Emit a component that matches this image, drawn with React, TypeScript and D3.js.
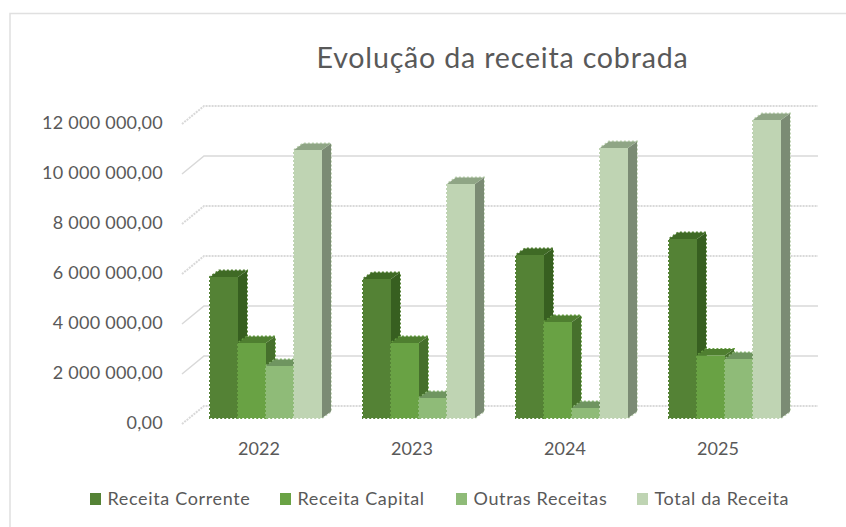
import React from "react";
import * as d3 from "d3";

const years = ["2022", "2023", "2024", "2025"];
const seriesNames = ["Receita Corrente", "Receita Capital", "Outras Receitas", "Total da Receita"];
const receitaCorrente = [5640000, 5560000, 6520000, 7160000];
const receitaCapital = [3000000, 3000000, 3840000, 2500000];
const outrasReceitas = [2080000, 800000, 400000, 2360000];
const totalReceita = [10720000, 9360000, 10800000, 11920000];
const tickValues = [0, 2000000, 4000000, 6000000, 8000000, 10000000, 12000000];
const tickDashes = ["2 1", "", "", "2 1", "2 1", "", "2 1"];

const frontColors = ["#548235", "#69a244", "#8fbb78", "#bfd4b3"];
const topColors = ["#3f6a25", "#4f7f30", "#6f9560", "#8fa585"];
const sideColors = ["#375f20", "#46702c", "#64865a", "#7b8b74"];
const seriesValues = [receitaCorrente, receitaCapital, outrasReceitas, totalReceita];

const fmt = (v: number) =>
  v.toFixed(2).replace(".", ",").replace(/\B(?=(\d{3})+(?!\d))/g, " ");

const FONT = "Lato, 'Open Sans', sans-serif";

export default function App() {
  const y = d3.scaleLinear().domain([0, 12000000]).range([418, 118]);
  const x0 = d3.scaleBand().domain(years).range([189.5, 801.5]).paddingInner(41 / 153).paddingOuter(20.5 / 153);
  const x1 = d3.scaleBand().domain(seriesNames).range([0, x0.bandwidth()]);
  const dx = 9, dy = 6.5;
  const gridDx = 22, gridDy = 18;
  const legendX = [90, 280, 456, 637];
  return (
    <svg width={846} height={527} style={{ position: "absolute", left: 0, top: 0, background: "#fff" }}>
      <path d="M10,527V13.5H846" fill="none" stroke="#e0e0e0" strokeWidth={1.5} />
      <text x={502.5} y={68} textAnchor="middle" fontFamily={FONT} fontSize={28.6} letterSpacing={0.8} fill="#595959">
        Evolução da receita cobrada
      </text>
      {tickValues.map((t, i) => {
        const back = y(t) - 12;
        return (
          <path
            key={t}
            d={`M182,${back + gridDy}L${182 + gridDx},${back}H818`}
            fill="none"
            stroke="#d9d9d9"
            strokeWidth={tickDashes[i] ? 2 : 1.5}
            strokeDasharray={tickDashes[i] || undefined}
          />
        );
      })}
      {tickValues.map((t) => (
        <text key={t} x={163} y={y(t) + 11} textAnchor="end" fontFamily={FONT} fontSize={18} letterSpacing={0.25} fill="#595959">
          {fmt(t)}
        </text>
      ))}
      {years.map((yr, gi) => (
        <g key={yr}>
          {seriesNames.map((s, si) => {
            const left = (x0(yr) as number) + (x1(s) as number);
            const w = x1.bandwidth();
            const top = y(seriesValues[si][gi]);
            const base = y(0);
            const outline = `M${left},${base}V${top}L${left + dx},${top - dy}H${left + w + dx}V${base - dy}L${left + w},${base}Z`;
            return (
              <g key={s}>
                <path d={outline} fill="none" stroke={frontColors[si]} strokeWidth={2} strokeDasharray="2 2" />
                <path d={`M${left + w},${top}L${left + w + dx},${top - dy}V${base - dy}L${left + w},${base}Z`} fill={sideColors[si]} />
                <path d={`M${left},${top}L${left + dx},${top - dy}H${left + w + dx}L${left + w},${top}Z`} fill={topColors[si]} />
                <rect x={left} y={top} width={w} height={base - top} fill={frontColors[si]} />
              </g>
            );
          })}
          <text x={(x0(yr) as number) + x0.bandwidth() / 2 - 7} y={455} textAnchor="middle" fontFamily={FONT} fontSize={18} fill="#595959">
            {yr}
          </text>
        </g>
      ))}
      {seriesNames.map((s, i) => (
        <g key={s}>
          <rect x={legendX[i]} y={493} width={11} height={12} fill={frontColors[i]} />
          <text x={legendX[i] + 17.5} y={505} fontFamily={FONT} fontSize={18} letterSpacing={0.65} fill="#595959">
            {s}
          </text>
        </g>
      ))}
    </svg>
  );
}
